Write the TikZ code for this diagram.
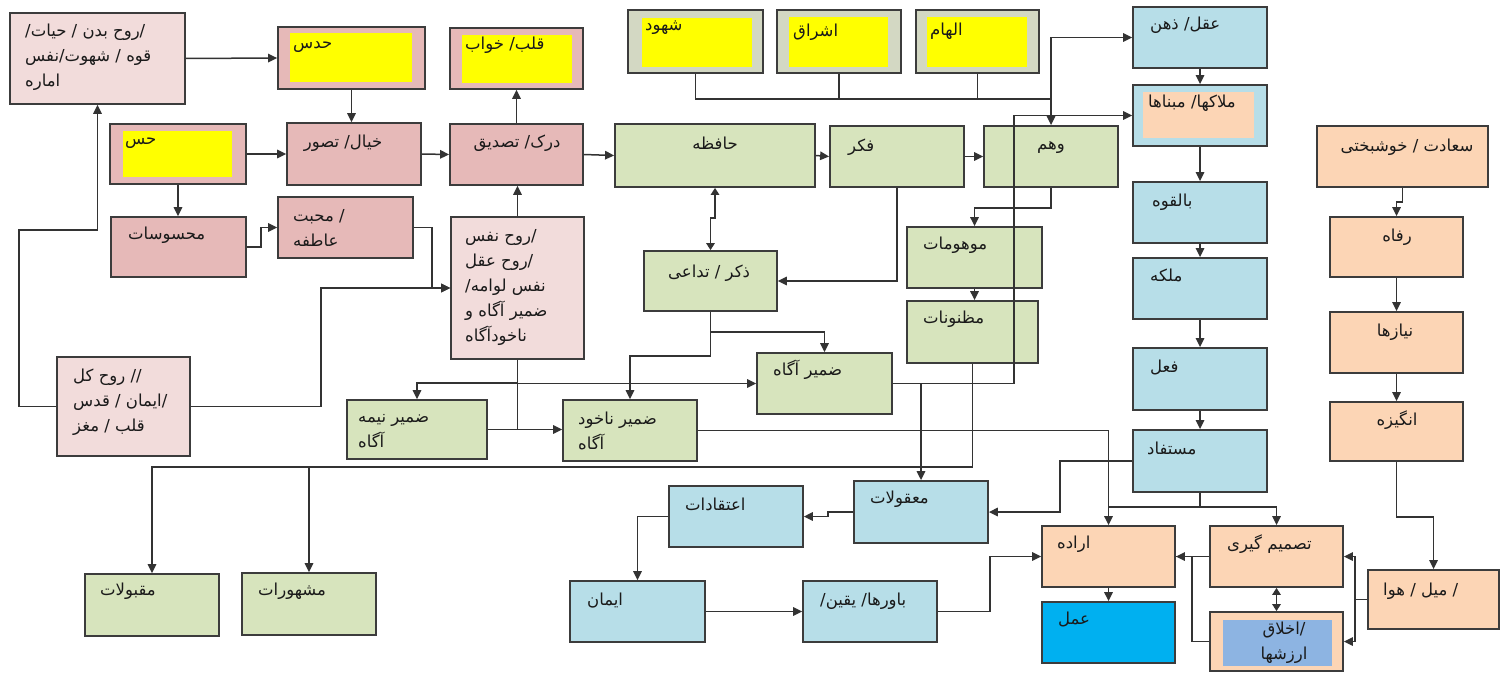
\documentclass[tikz,border=0pt]{standalone}
\usepackage{fontspec}
\usetikzlibrary{arrows.meta,fit,calc}
\newfontfamily\arabicfont[Script=Arabic]{DejaVu Sans}
\TeXXeTstate=1
\newcommand\fa[1]{\beginR#1\endR}
\definecolor{pinkL}{HTML}{F2DCDB}
\definecolor{pinkD}{HTML}{E6B9B8}
\definecolor{yel}{HTML}{FFFF00}
\definecolor{grn}{HTML}{D7E4BD}
\definecolor{grnG}{HTML}{D3D8C3}
\definecolor{blu}{HTML}{B7DEE8}
\definecolor{pch}{HTML}{FCD5B5}
\definecolor{bblu}{HTML}{00B0F0}
\definecolor{iblu}{HTML}{8DB4E2}
\definecolor{bord}{HTML}{3C3C3C}
\definecolor{linec}{HTML}{333333}
\definecolor{txtc}{HTML}{1A1A1A}
\newcommand\bx[6]{\node[box,fill=#6,fit={(#2,#3)(#4,#5)}] (#1) {};}
\newcommand\inr[5]{\fill[#5] (#1,#2) rectangle (#3,#4);}
\begin{document}
\begin{tikzpicture}[x=1pt,y=-1pt,
  box/.style={draw=bord,line width=1.8pt,inner sep=0pt},
  txt/.style={font=\arabicfont\fontsize{16.5}{25}\selectfont,inner sep=0pt,text=txtc},
  ln/.style={line width=1.5pt,draw=linec},
  arr/.style={ln,-{Triangle[length=9pt,width=8.5pt]}},
  dbl/.style={ln,{Triangle[length=7pt,width=8.5pt]}-{Triangle[length=7pt,width=8.5pt]}}]
\fill[white] (0,0) rectangle (1501,674);
\useasboundingbox (0,0) rectangle (1501,674);
% boxes
\bx{n1}{10}{13}{185}{104}{pinkL}
\bx{hads}{278}{27}{425}{89}{pinkD} \inr{290}{33}{412}{82}{yel}
\bx{qalb}{450}{28}{583}{89}{pinkD} \inr{462}{35}{572}{83}{yel}
\bx{has}{110}{124}{246}{184}{pinkD} \inr{123}{131}{232}{177}{yel}
\bx{khial}{287}{123}{421}{185}{pinkD}
\bx{dark}{450}{124}{583}{185}{pinkD}
\bx{hafeze}{615}{124}{815}{187}{grn}
\bx{fekr}{830}{126}{964}{187}{grn}
\bx{vahm}{984}{126}{1118}{187}{grn}
\bx{shohud}{628}{10}{763}{73}{grnG} \inr{642}{18}{752}{67}{yel}
\bx{eshragh}{777}{10}{901}{73}{grnG} \inr{789}{17}{888}{67}{yel}
\bx{elham}{916}{10}{1039}{73}{grnG} \inr{927}{17}{1027}{67}{yel}
\bx{aql}{1133}{7}{1267}{68}{blu}
\bx{malak}{1133}{85}{1267}{146}{blu} \inr{1143}{92}{1254}{138}{pch}
\bx{belghove}{1133}{182}{1267}{243}{blu}
\bx{malake}{1133}{258}{1267}{319}{blu}
\bx{feel}{1133}{348}{1267}{410}{blu}
\bx{mostafad}{1133}{430}{1267}{492}{blu}
\bx{saadat}{1317}{126}{1488}{187}{pch}
\bx{refah}{1330}{217}{1463}{277}{pch}
\bx{niaz}{1330}{312}{1463}{373}{pch}
\bx{angize}{1330}{402}{1463}{461}{pch}
\bx{meil}{1368}{570}{1499}{629}{pch}
\bx{tasmim}{1210}{526}{1343}{587}{pch}
\bx{akhlagh}{1210}{612}{1343}{671}{pch} \inr{1223}{620}{1332}{666}{iblu}
\bx{erade}{1042}{526}{1175}{587}{pch}
\bx{amal}{1042}{602}{1175}{663}{bblu}
\bx{maghulat}{854}{481}{988}{543}{blu}
\bx{eteghadat}{669}{486}{803}{547}{blu}
\bx{iman}{570}{581}{705}{642}{blu}
\bx{bavar}{803}{581}{937}{642}{blu}
\bx{zekr}{644}{251}{777}{311}{grn}
\bx{mohumat}{907}{227}{1042}{288}{grn}
\bx{maznunat}{907}{301}{1038}{363}{grn}
\bx{zagah}{757}{353}{892}{414}{grn}
\bx{znakhod}{563}{400}{697}{461}{grn}
\bx{znime}{347}{400}{487}{459}{grn}
\bx{maghbulat}{85}{574}{219}{636}{grn}
\bx{mashhurat}{242}{573}{376}{635}{grn}
\bx{ruhkol}{57}{357}{190}{456}{pinkL}
\bx{ruhnafs}{451}{217}{584}{359}{pinkL}
\bx{mahsusat}{111}{217}{246}{277}{pinkD}
\bx{mahabbat}{278}{197}{413}{258}{pinkD}
% connectors
\draw[arr] (n1.east) -- (hads.west);
\draw[arr] (hads.south) -- (hads.south |- khial.north);
\draw[arr] (has.east) -- (khial.west);
\draw[arr] (has.south) -- (has.south |- mahsusat.north);
\draw[arr] (mahsusat.east) -- ++(14,0) |- (mahabbat.west);
\draw[arr] (khial.east) -- (dark.west);
\draw[arr] (dark.north) -- (qalb.south);
\draw[arr] (dark.east) -- (hafeze.west);
\draw[arr] (ruhnafs.north) -- (ruhnafs.north |- dark.south);
\draw[arr] (hafeze.east) -- (fekr.west);
\draw[arr] (fekr.east) -- (vahm.west);
\draw[dbl] (hafeze.south) -- ++(0,30) -| (zekr.north);
\draw[arr] (fekr.south) |- (zekr.east);
\draw[arr] (vahm.south) -- ++(0,20) -| (mohumat.north);
\draw[arr] (mohumat.south) -- (mohumat.south |- maznunat.north);
\coordinate (bus) at (1051,99);
\draw[ln] (shohud.south) |- (bus);
\draw[ln] (eshragh.south) -- (eshragh.south |- bus);
\draw[ln] (elham.south) -- (elham.south |- bus);
\draw[arr] (bus) -- (vahm.north);
\draw[arr] (bus) -- (bus |- aql.west) -- (aql.west);
\draw[arr] (zagah.east) -- ++(121,0) |- (malak.west);
\draw[arr] (maghulat.north |- zagah.east) -- (maghulat.north);
\draw[arr] (aql.south) -- (malak.north);
\draw[arr] (malak.south) -- (belghove.north);
\draw[arr] (belghove.south) -- (malake.north);
\draw[arr] (malake.south) -- (feel.north);
\draw[arr] (feel.south) -- (mostafad.north);
\draw[arr] (mostafad.west) -- ++(-72,0) |- (maghulat.east);
\coordinate (j1) at (1200,507);
\draw[arr] (mostafad.south) -- (j1) -| (tasmim.north);
\draw[ln] (j1) -- (erade.north |- j1);
\draw[arr] (znakhod.east) -| (erade.north);
\draw[arr] (erade.south) -- (amal.north);
\draw[arr] (tasmim.west) -- (erade.east);
\draw[ln] (akhlagh.west) -- ++(-17,0) |- (erade.east);
\draw[dbl] (tasmim.south) -- (akhlagh.north);
\draw[arr] (meil.west) -- ++(-12,0) |- (tasmim.east);
\draw[arr] (meil.west) -- ++(-12,0) |- (akhlagh.east);
\draw[arr] (saadat.south) -- ++(0,14) -| (refah.north);
\draw[arr] (refah.south) -- (niaz.north);
\draw[arr] (niaz.south) -- (angize.north);
\draw[arr] (angize.south) -- ++(0,55) -| (meil.north);
\draw[arr] (maghulat.west) -- ++(-25,0) |- (eteghadat.east);
\draw[arr] (eteghadat.west) -| (iman.north);
\draw[arr] (iman.east) -- (bavar.west);
\draw[arr] (bavar.east) -- ++(52,0) |- (erade.west);
\coordinate (b2) at (0,467);
\draw[arr] (maznunat.south) -- (maznunat.south |- b2) -| (maghbulat.north);
\draw[arr] (mashhurat.north |- b2) -- (mashhurat.north);
\draw[arr] (zekr.south) -- ++(0,44) -| (znakhod.north);
\draw[arr] (zekr.south) ++(0,20) -| (zagah.north);
\draw[arr] (ruhnafs.south) -- ++(0,23) -| (znime.north);
\draw[arr] (ruhnafs.south |- zagah.west) -- (zagah.west);
\draw[ln] (ruhnafs.south) -- (ruhnafs.south |- znime.east) -- ++(8,0);
\draw[arr] (znime.east) -- (znime.east -| znakhod.west);
\draw[arr] (mahabbat.east) -- ++(18,0) |- (ruhnafs.west);
\draw[arr] (ruhkol.east) -- ++(130,0) |- (ruhnafs.west);
\coordinate (c1) at (19,230);
\draw[arr] (ruhkol.west) -| (c1) -| (n1.south);
% texts
\node[txt,anchor=west,align=left] (t-n1) at (25,57) {/\fa{روح بدن / حیات}/\\\fa{قوه / شهوت/نفس}\\\fa{اماره}};
\node[txt,anchor=west] (t-hads) at (293,47) {\fa{حدس}};
\node[txt,anchor=west] (t-has) at (125,143) {\fa{حس}};
\node[txt] (t-khial) at (343,143) {\fa{خیال/ تصور}};
\node[txt,anchor=west] (t-qalb) at (465,45) {\fa{قلب/ خواب}};
\node[txt] (t-dark) at (517,143) {\fa{درک/ تصدیق}};
\node[txt] (t-hafeze) at (715,143) {\fa{حافظه}};
\node[txt,anchor=west] (t-shohud) at (645,28) {\fa{شهود}};
\node[txt,anchor=west] (t-eshragh) at (793,32) {\fa{اشراق}};
\node[txt,anchor=west] (t-elham) at (930,31) {\fa{الهام}};
\node[txt,anchor=west] (t-fekr) at (848,147) {\fa{فکر}};
\node[txt] (t-vahm) at (1051,147) {\fa{وهم}};
\node[txt,anchor=west] (t-aql) at (1150,25) {\fa{عقل/ ذهن}};
\node[txt,anchor=west] (t-malak) at (1148,103) {\fa{ملاکها/ مبناها}};
\node[txt,anchor=west] (t-belghove) at (1152,202) {\fa{بالقوه}};
\node[txt,anchor=west] (t-malake) at (1150,275) {\fa{ملکه}};
\node[txt,anchor=west] (t-feel) at (1150,367) {\fa{فعل}};
\node[txt,anchor=west] (t-mostafad) at (1147,448) {\fa{مستفاد}};
\node[txt] (t-saadat) at (1407,147) {\fa{سعادت / خوشبختی}};
\node[txt] (t-refah) at (1397,237) {\fa{رفاه}};
\node[txt] (t-niaz) at (1395,332) {\fa{نیازها}};
\node[txt] (t-angize) at (1397,420) {\fa{انگیزه}};
\node[txt,anchor=west] (t-meil) at (1383,591) {\fa{میل / هوا} /};
\node[txt,anchor=west] (t-tasmim) at (1227,544) {\fa{تصمیم گیری}};
\node[txt,align=center] (t-akhlagh) at (1284,643) {\fa{اخلاق}/\\\fa{ارزشها}};
\node[txt,anchor=west] (t-erade) at (1057,544) {\fa{اراده}};
\node[txt,anchor=west] (t-amal) at (1058,619) {\fa{عمل}};
\node[txt,anchor=west] (t-maghulat) at (870,499) {\fa{معقولات}};
\node[txt,anchor=west] (t-eteghadat) at (685,504) {\fa{اعتقادات}};
\node[txt,anchor=west] (t-iman) at (587,601) {\fa{ایمان}};
\node[txt,anchor=west] (t-bavar) at (820,601) {/\fa{باورها/ یقین}};
\node[txt,anchor=west] (t-zekr) at (668,273) {\fa{ذکر / تداعی}};
\node[txt,anchor=west] (t-mohumat) at (923,245) {\fa{موهومات}};
\node[txt,anchor=west] (t-maznunat) at (923,319) {\fa{مظنونات}};
\node[txt,anchor=west] (t-zagah) at (773,370) {\fa{ضمیر آگاه}};
\node[txt,anchor=west,align=left] (t-znakhod) at (578,431) {\fa{ضمیر ناخود}\\\fa{آگاه}};
\node[txt,anchor=west,align=left] (t-znime) at (358,431) {\fa{ضمیر نیمه}\\\fa{آگاه}};
\node[txt,anchor=west] (t-maghbulat) at (100,591) {\fa{مقبولات}};
\node[txt,anchor=west] (t-mashhurat) at (258,591) {\fa{مشهورات}};
\node[txt,anchor=west,align=left] (t-ruhkol) at (73,402) {\fa{روح کل} //\\\fa{ایمان / قدس}/\\\fa{قلب / مغز}};
\node[txt,anchor=west,align=left] (t-ruhnafs) at (465,287) {\fa{روح نفس}/\\\fa{روح عقل}/\\/\fa{نفس لوامه}\\\fa{ضمیر آگاه و}\\\fa{ناخودآگاه}};
\node[txt,anchor=west] (t-mahsusat) at (128,235) {\fa{محسوسات}};
\node[txt,anchor=west,align=left] (t-mahabbat) at (293,228) {\fa{محبت} /\\\fa{عاطفه}};
\end{tikzpicture}
\end{document}
